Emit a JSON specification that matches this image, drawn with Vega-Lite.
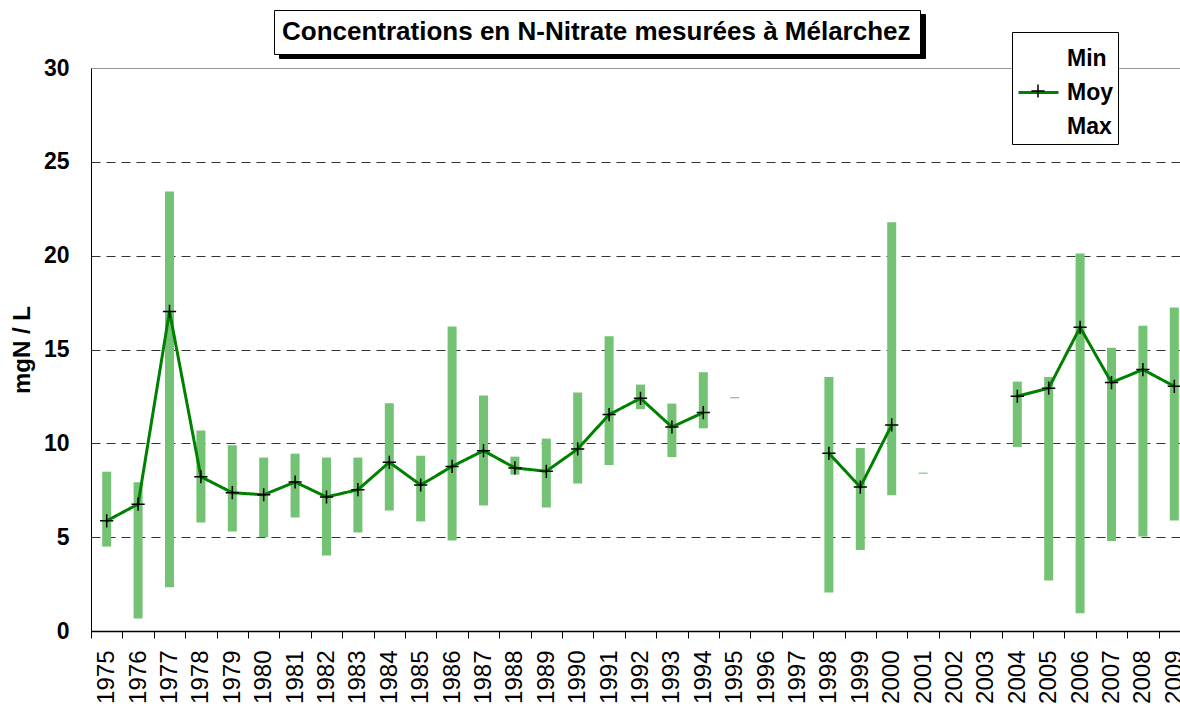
{
  "$schema": "https://vega.github.io/schema/vega-lite/v6.json",
  "width": 1099,
  "height": 563,
  "autosize": {"type": "none"},
  "padding": {"left": 91, "top": 68, "right": -10, "bottom": 73},
  "background": "white",
  "config": {
    "view": {"stroke": null},
    "font": "Liberation Sans",
    "axisY": {
      "labelFont": "Liberation Sans",
      "labelFontSize": 23,
      "labelFontWeight": "bold",
      "labelColor": "black",
      "labelPadding": 22,
      "ticks": false,
      "domainColor": "black",
      "grid": true,
      "gridColor": "#333333",
      "gridDash": [9, 6],
      "titleFont": "Liberation Sans",
      "titleFontSize": 24,
      "titleFontWeight": "bold",
      "titleColor": "black",
      "titlePadding": 9
    }
  },
  "data": {
    "values": [
      {"year": "1975", "min": 4.5, "moy": 5.87, "max": 8.49},
      {"year": "1976", "min": 0.66, "moy": 6.76, "max": 7.92},
      {"year": "1977", "min": 2.33, "moy": 17.03, "max": 23.42},
      {"year": "1978", "min": 5.78, "moy": 8.22, "max": 10.68},
      {"year": "1979", "min": 5.3, "moy": 7.37, "max": 9.9},
      {"year": "1980", "min": 5.0, "moy": 7.26, "max": 9.24},
      {"year": "1981", "min": 6.05, "moy": 7.94, "max": 9.45},
      {"year": "1982", "min": 4.02, "moy": 7.14, "max": 9.24},
      {"year": "1983", "min": 5.25, "moy": 7.53, "max": 9.24},
      {"year": "1984", "min": 6.42, "moy": 8.99, "max": 12.14},
      {"year": "1985", "min": 5.84, "moy": 7.78, "max": 9.34},
      {"year": "1986", "min": 4.82, "moy": 8.77, "max": 16.23},
      {"year": "1987", "min": 6.69, "moy": 9.61, "max": 12.55},
      {"year": "1988", "min": 8.33, "moy": 8.69, "max": 9.29},
      {"year": "1989", "min": 6.58, "moy": 8.51, "max": 10.25},
      {"year": "1990", "min": 7.86, "moy": 9.7, "max": 12.71},
      {"year": "1991", "min": 8.85, "moy": 11.53, "max": 15.7},
      {"year": "1992", "min": 11.82, "moy": 12.4, "max": 13.13},
      {"year": "1993", "min": 9.27, "moy": 10.87, "max": 12.12},
      {"year": "1994", "min": 10.8, "moy": 11.64, "max": 13.79},
      {"year": "1995", "min": 12.4, "moy": null, "max": 12.46},
      {"year": "1996", "min": null, "moy": null, "max": null},
      {"year": "1997", "min": null, "moy": null, "max": null},
      {"year": "1998", "min": 2.05, "moy": 9.47, "max": 13.54},
      {"year": "1999", "min": 4.31, "moy": 7.67, "max": 9.75},
      {"year": "2000", "min": 7.24, "moy": 10.98, "max": 21.78},
      {"year": "2001", "min": 8.38, "moy": null, "max": 8.44},
      {"year": "2002", "min": null, "moy": null, "max": null},
      {"year": "2003", "min": null, "moy": null, "max": null},
      {"year": "2004", "min": 9.81, "moy": 12.51, "max": 13.29},
      {"year": "2005", "min": 2.69, "moy": 12.94, "max": 13.54},
      {"year": "2006", "min": 0.94, "moy": 16.18, "max": 20.11},
      {"year": "2007", "min": 4.79, "moy": 13.24, "max": 15.09},
      {"year": "2008", "min": 5.04, "moy": 13.93, "max": 16.27},
      {"year": "2009", "min": 5.89, "moy": 13.04, "max": 17.24}
    ]
  },
  "encoding": {
    "x": {
      "field": "year",
      "type": "ordinal",
      "scale": {
        "domain": ["1975","1976","1977","1978","1979","1980","1981","1982","1983","1984","1985","1986","1987","1988","1989","1990","1991","1992","1993","1994","1995","1996","1997","1998","1999","2000","2001","2002","2003","2004","2005","2006","2007","2008","2009"],
        "paddingInner": 0,
        "paddingOuter": 0
      },
      "axis": {
        "title": null,
        "labelAngle": 270,
        "labelFont": "Liberation Sans",
        "labelFontSize": 24,
        "labelColor": "black",
        "labelPadding": 12,
        "tickSize": 7,
        "tickColor": "black",
        "tickBand": "extent",
        "domainColor": "black",
        "domainWidth": 1.5,
        "labelOverlap": false,
        "labelBound": false,
        "grid": false
      }
    }
  },
  "layer": [
    {
      "mark": {"type": "bar", "size": 9},
      "encoding": {
        "y": {
          "field": "min",
          "type": "quantitative",
          "scale": {"domain": [0, 30], "nice": false},
          "axis": {
            "title": "mgN / L",
            "values": [0, 5, 10, 15, 20, 25, 30],
            "gridColor": {"condition": {"test": "datum.value === 30", "value": "#999999"}, "value": "#333333"},
            "gridDash": {"condition": {"test": "datum.value === 30", "value": []}, "value": [9, 6]}
          }
        },
        "y2": {"field": "max"},
        "fill": {
          "datum": "Concentrations en N-Nitrate mesurées à Mélarchez\u200b",
          "scale": {"range": ["#74c274"]},
          "legend": {
            "title": null, "orient": "none", "legendX": 188, "legendY": -54,
            "padding": 9, "fillColor": "black", "strokeColor": "black",
            "symbolSize": 0, "symbolOpacity": 0, "symbolStrokeWidth": 0,
            "labelOffset": -27, "labelFont": "Liberation Sans", "labelFontSize": 26,
            "labelFontWeight": "bold", "labelLimit": 2000, "labelOpacity": 0
          }
        }
      }
    },
    {
      "mark": {"type": "line", "strokeWidth": 3, "invalid": "break-paths-show-domains"},
      "encoding": {
        "y": {
          "field": "moy",
          "type": "quantitative",
          "axis": {
            "title": "mgN / L",
            "values": [0, 5, 10, 15, 20, 25, 30],
            "gridColor": {"condition": {"test": "datum.value === 30", "value": "#999999"}, "value": "#333333"},
            "gridDash": {"condition": {"test": "datum.value === 30", "value": []}, "value": [9, 6]}
          }
        },
        "color": {
          "datum": "Moy",
          "scale": {"domain": ["Min", "Moy", "Max"], "range": ["transparent", "#008000", "transparent"]},
          "legend": {
            "title": null, "orient": "none", "legendX": 921, "legendY": -36,
            "padding": 5, "fillColor": "white", "strokeColor": "black",
            "symbolType": "stroke", "symbolSize": 1600, "symbolStrokeWidth": 3,
            "labelFont": "Liberation Sans", "labelFontSize": 23, "labelFontWeight": "bold",
            "labelColor": "black", "labelOffset": 7, "rowPadding": -9
          }
        },
        "strokeDash": {
          "datum": "Concentrations en N-Nitrate mesurées à Mélarchez",
          "scale": {"range": [[1, 0]]},
          "legend": {
            "title": null, "orient": "none", "legendX": 183, "legendY": -58,
            "padding": 9, "fillColor": "white", "strokeColor": "black",
            "symbolSize": 0, "symbolOpacity": 0, "symbolStrokeWidth": 0,
            "labelOffset": -27, "labelFont": "Liberation Sans", "labelFontSize": 26,
            "labelFontWeight": "bold", "labelLimit": 2000, "labelColor": "black"
          }
        }
      }
    },
    {
      "mark": {"type": "point", "filled": false, "stroke": "black", "strokeWidth": 1.5, "size": 1600, "opacity": 1},
      "encoding": {
        "y": {
          "field": "moy",
          "type": "quantitative",
          "axis": {
            "title": "mgN / L",
            "values": [0, 5, 10, 15, 20, 25, 30],
            "gridColor": {"condition": {"test": "datum.value === 30", "value": "#999999"}, "value": "#333333"},
            "gridDash": {"condition": {"test": "datum.value === 30", "value": []}, "value": [9, 6]}
          }
        },
        "shape": {
          "datum": "Moy\u200b",
          "scale": {"domain": ["Min\u200b", "Moy\u200b", "Max\u200b"], "range": ["M0,0", "M-0.33,0H0.33M0,-0.33V0.33", "M0,0"]},
          "legend": {
            "title": null, "orient": "none", "legendX": 921, "legendY": -36,
            "padding": 5, "symbolSize": 1600, "symbolStrokeWidth": 1.5,
            "symbolStrokeColor": "black", "symbolFillColor": "transparent",
            "labelFont": "Liberation Sans", "labelFontSize": 23, "labelFontWeight": "bold",
            "labelOpacity": 0, "labelOffset": 7, "rowPadding": -9
          }
        }
      }
    }
  ]
}
